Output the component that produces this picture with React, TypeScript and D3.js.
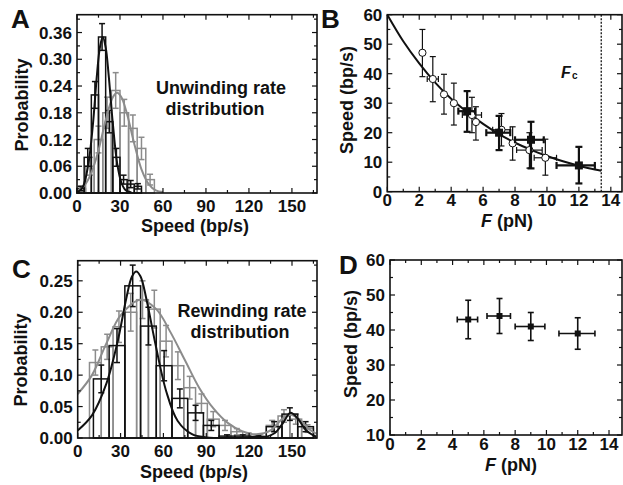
import React from 'react';
import * as d3 from 'd3';

// ---- panel A: unwinding rate histograms ----
const aBlackStart = 0;
const aBlackWidth = 5;
const aBlackProb = [0.01, 0.08, 0.22, 0.35, 0.16, 0.08, 0.03, 0.02, 0.015];
const aBlackErr = [0.005, 0.02, 0.03, 0.03, 0.025, 0.02, 0.01, 0.008, 0.006];
const aGreyStart = 0;
const aGreyWidth = 6;
const aGreyProb = [0.01, 0.06, 0.12, 0.18, 0.23, 0.18, 0.145, 0.1, 0.03];
const aGreyErr = [0.005, 0.02, 0.03, 0.035, 0.04, 0.03, 0.03, 0.025, 0.012];
const aBlackFit: [number, number][] = [
  [0, 0.001], [4, 0.013], [8, 0.067], [11, 0.15], [14, 0.268], [16, 0.327], [18, 0.35],
  [20, 0.327], [22, 0.268], [25, 0.156], [28, 0.067], [31, 0.023], [34, 0.006], [38, 0.001],
];
const aGreyFit: [number, number][] = [
  [0, 0.005], [5, 0.016], [10, 0.045], [15, 0.096], [20, 0.163], [25, 0.215], [28, 0.225],
  [31, 0.215], [35, 0.176], [40, 0.11], [45, 0.053], [50, 0.02], [55, 0.006], [60, 0.002],
];

// ---- panel C: rewinding rate histograms ----
const cBlackStart = 11;
const cBlackWidth = 11;
const cBlackProb = [0.094, 0.147, 0.242, 0.178, 0.115, 0.063, 0.04, 0.02, 0.003, 0.003, 0.002, 0.018, 0.038, 0.018];
const cBlackErr = [0.022, 0.027, 0.033, 0.03, 0.024, 0.015, 0.012, 0.008, 0.002, 0.002, 0.002, 0.008, 0.01, 0.008];
const cGreyStart = 8.25;
const cGreyWidth = 8.25;
const cGreyProb = [0.12, 0.145, 0.177, 0.2, 0.22, 0.205, 0.154, 0.115, 0.08, 0.055, 0.03, 0.02, 0.01, 0.005, 0.003, 0.02, 0.035, 0.03, 0.015];
const cGreyErr = [0.02, 0.02, 0.025, 0.03, 0.03, 0.03, 0.025, 0.022, 0.018, 0.015, 0.012, 0.008, 0.005, 0.003, 0.002, 0.008, 0.01, 0.008, 0.006];
const cBlackFit: [number, number][] = [
  [0, 0.012], [10, 0.036], [20, 0.086], [28, 0.154], [34, 0.222], [38, 0.257], [41, 0.265],
  [44, 0.257], [48, 0.222], [54, 0.154], [62, 0.074], [70, 0.027], [80, 0.006], [90, 0.001],
  [110, 0], [130, 0.001], [138, 0.008], [144, 0.025], [149, 0.04], [154, 0.031], [160, 0.012], [167, 0.002],
];
const cGreyFit: [number, number][] = [
  [0, 0.07], [10, 0.1], [20, 0.15], [30, 0.195], [44, 0.22], [55, 0.205], [65, 0.168],
  [75, 0.124], [85, 0.08], [95, 0.047], [105, 0.024], [115, 0.011], [125, 0.006], [135, 0.012],
  [143, 0.03], [149, 0.037], [155, 0.03], [162, 0.014], [167, 0.007],
];

// ---- panel B: unwinding speed vs force ----
const bCircleF = [2.2, 2.85, 3.55, 4.17, 5.3, 5.55, 7.15, 7.85, 8.9, 9.9];
const bCircleV = [47.1, 38.2, 33, 30, 26, 23.6, 21, 16.4, 14.1, 11.5];
const bCircleLo = [39, 30.5, 26.3, 22.6, 20, 17.5, 15.5, 10.7, 8, 5.6];
const bCircleHi = [55, 45.8, 39.8, 36.8, 32, 28.8, 26.5, 22, 20, 17.8];
const bCircleFLo = [2.2, 2.5, 3.55, 4.17, 4.7, 5.55, 6.6, 7.85, 8.1, 9.2];
const bCircleFHi = [2.2, 3.2, 3.55, 4.17, 5.9, 5.55, 7.7, 7.85, 9.7, 10.6];
const bSquareF = [5, 7, 9, 12];
const bSquareV = [27.3, 20, 17.6, 8.9];
const bSquareLo = [20.3, 14.1, 7.9, 2.8];
const bSquareHi = [34.1, 25.7, 23.7, 15.2];
const bSquareFLo = [4.45, 6.2, 8.0, 10.6];
const bSquareFHi = [5.5, 7.7, 9.8, 13.0];
const bFit: [number, number][] = [
  [0, 60], [1, 51], [2, 43.5], [3, 37], [4, 31.5], [5, 27], [6, 23], [7, 19.5],
  [8, 16.6], [9, 14.2], [10, 12.1], [11, 10.3], [12, 8.8], [13, 7.5], [13.4, 7.1],
];
const bForceCritical = 13.4;

// ---- panel D: rewinding speed vs force ----
const dF = [5, 7, 9, 12];
const dV = [43, 44, 41, 39];
const dLo = [37.5, 39, 37, 34.5];
const dHi = [48.5, 49, 45, 43.5];
const dFLo = [4.3, 6.2, 8.0, 10.8];
const dFHi = [5.6, 7.7, 9.9, 13.1];

const FONT = "'Liberation Sans', Arial, Helvetica, sans-serif";
const GREY = '#8c8c8c';
const INK = '#111';

type Scale = d3.ScaleLinear<number, number>;

function Frame({ x, y, xMajor, xMinor, yMajor, yMinor, yFmt, xLabelY }: {
  x: Scale; y: Scale; xMajor: number[]; xMinor: number[]; yMajor: number[]; yMinor: number[];
  yFmt: (v: number) => string; xLabelY: number;
}) {
  const [x0, x1] = x.range();
  const [y0, y1] = y.range();
  const tick = (v: number, len: number, axis: 'x' | 'y', k: string) =>
    axis === 'x' ? (
      <g key={k}>
        <line x1={x(v)} x2={x(v)} y1={y0} y2={y0 - len} />
        <line x1={x(v)} x2={x(v)} y1={y1} y2={y1 + len} />
      </g>
    ) : (
      <g key={k}>
        <line x1={x0} x2={x0 + len} y1={y(v)} y2={y(v)} />
        <line x1={x1} x2={x1 - len} y1={y(v)} y2={y(v)} />
      </g>
    );
  return (
    <g>
      <g stroke={INK} strokeWidth={1.2}>
        {xMajor.map((v, i) => tick(v, 5, 'x', 'xM' + i))}
        {xMinor.map((v, i) => tick(v, 3, 'x', 'xm' + i))}
        {yMajor.map((v, i) => tick(v, 5, 'y', 'yM' + i))}
        {yMinor.map((v, i) => tick(v, 3, 'y', 'ym' + i))}
      </g>
      <rect x={x0} y={y1} width={x1 - x0} height={y0 - y1} fill="none" stroke={INK} strokeWidth={1.6} />
      <g fontFamily={FONT} fontWeight="bold" fontSize={17} fill={INK}>
        {xMajor.map((v, i) => (
          <text key={'xl' + i} x={x(v)} y={xLabelY} textAnchor="middle">{v}</text>
        ))}
        {yMajor.map((v, i) => (
          <text key={'yl' + i} x={x0 - 5} y={y(v) + 6} textAnchor="end">{yFmt(v)}</text>
        ))}
      </g>
    </g>
  );
}

function Histogram({ x, y, start, width, prob, err, color }: {
  x: Scale; y: Scale; start: number; width: number; prob: number[]; err: number[]; color: string;
}) {
  return (
    <g stroke={color} fill="none" strokeWidth={1.5}>
      {prob.map((p, i) => {
        const a = start + i * width;
        const c = x(a + width / 2);
        return (
          <g key={i}>
            <rect x={x(a)} y={y(p)} width={x(a + width) - x(a)} height={y(0) - y(p)} />
            <line x1={c} x2={c} y1={y(p - err[i])} y2={y(p + err[i])} />
            <line x1={c - 3} x2={c + 3} y1={y(p - err[i])} y2={y(p - err[i])} />
            <line x1={c - 3} x2={c + 3} y1={y(p + err[i])} y2={y(p + err[i])} />
          </g>
        );
      })}
    </g>
  );
}

function ErrBar({ x, y, f, v, lo, hi, flo, fhi, w, cap }: {
  x: Scale; y: Scale; f: number; v: number; lo: number; hi: number; flo: number; fhi: number; w: number; cap: number;
}) {
  return (
    <g stroke={INK} strokeWidth={w}>
      <line x1={x(f)} x2={x(f)} y1={y(lo)} y2={y(hi)} />
      <line x1={x(f) - cap} x2={x(f) + cap} y1={y(lo)} y2={y(lo)} />
      <line x1={x(f) - cap} x2={x(f) + cap} y1={y(hi)} y2={y(hi)} />
      {fhi > flo && (
        <>
          <line x1={x(flo)} x2={x(fhi)} y1={y(v)} y2={y(v)} />
          <line x1={x(flo)} x2={x(flo)} y1={y(v) - cap} y2={y(v) + cap} />
          <line x1={x(fhi)} x2={x(fhi)} y1={y(v) - cap} y2={y(v) + cap} />
        </>
      )}
    </g>
  );
}

const range = (a: number, b: number, s: number) => d3.range(a, b + s / 2, s);

export default function App() {
  // panel A
  const xA = d3.scaleLinear().domain([0, 167.5]).range([77, 317]);
  const yA = d3.scaleLinear().domain([0, 0.4]).range([193, 14.7]);
  // panel B
  const xB = d3.scaleLinear().domain([0, 14.7]).range([387.3, 622]);
  const yB = d3.scaleLinear().domain([0, 60]).range([191.7, 14.7]);
  // panel C
  const xC = d3.scaleLinear().domain([0, 167.5]).range([77.7, 317]);
  const yC = d3.scaleLinear().domain([0, 0.282]).range([438, 260.7]);
  // panel D
  const xD = d3.scaleLinear().domain([0, 14.83]).range([390, 622]);
  const yD = d3.scaleLinear().domain([10, 60]).range([435, 260]);

  const curve = (x: Scale, y: Scale) =>
    d3.line<[number, number]>().x((d) => x(d[0])).y((d) => y(Math.max(0, d[1]))).curve(d3.curveCatmullRom);

  const f2 = d3.format('.2f');
  const txt = { fontFamily: FONT, fontWeight: 'bold' as const, fill: INK };

  return (
    <svg width={623} height={485} style={{ position: 'absolute', left: 0, top: 0, background: '#fff' }}>
      <rect width={623} height={485} fill="#fff" />
      <defs>
        <clipPath id="clipA"><rect x={77} y={14.7} width={240} height={178.3} /></clipPath>
        <clipPath id="clipC"><rect x={77.7} y={260.7} width={239.3} height={177.3} /></clipPath>
      </defs>

      {/* ---- A ---- */}
      <Histogram x={xA} y={yA} start={aGreyStart} width={aGreyWidth} prob={aGreyProb} err={aGreyErr} color={GREY} />
      <Histogram x={xA} y={yA} start={aBlackStart} width={aBlackWidth} prob={aBlackProb} err={aBlackErr} color={INK} />
      <g clipPath="url(#clipA)" fill="none" strokeWidth={2}>
        <path d={curve(xA, yA)(aGreyFit) || ''} stroke={GREY} />
        <path d={curve(xA, yA)(aBlackFit) || ''} stroke={INK} />
      </g>
      <Frame x={xA} y={yA} xMajor={range(0, 150, 30)} xMinor={range(15, 165, 30)}
        yMajor={range(0, 0.36, 0.06)} yMinor={range(0.03, 0.39, 0.06)} yFmt={f2} xLabelY={212} />
      <text {...txt} fontSize={18} x={221} y={94} textAnchor="middle">Unwinding rate</text>
      <text {...txt} fontSize={18} x={215} y={115} textAnchor="middle">distribution</text>
      <text {...txt} fontSize={18} transform="translate(28,105) rotate(-90)" textAnchor="middle">Probability</text>
      <text {...txt} fontSize={18} x={195} y={232} textAnchor="middle">Speed (bp/s)</text>
      <text {...txt} fontSize={26} x={11} y={28}>A</text>

      {/* ---- B ---- */}
      <line x1={xB(bForceCritical)} x2={xB(bForceCritical)} y1={yB(0)} y2={yB(60)} stroke={INK} strokeWidth={1.3} strokeDasharray="2,1.5" />
      <path d={curve(xB, yB)(bFit) || ''} fill="none" stroke={INK} strokeWidth={2} />
      {bCircleF.map((f, i) => (
        <ErrBar key={'bc' + i} x={xB} y={yB} f={f} v={bCircleV[i]} lo={bCircleLo[i]} hi={bCircleHi[i]}
          flo={bCircleFLo[i]} fhi={bCircleFHi[i]} w={1.2} cap={3} />
      ))}
      {bCircleF.map((f, i) => (
        <circle key={'bcc' + i} cx={xB(f)} cy={yB(bCircleV[i])} r={3.6} fill="#fff" stroke={INK} strokeWidth={1} />
      ))}
      {bSquareF.map((f, i) => (
        <ErrBar key={'bs' + i} x={xB} y={yB} f={f} v={bSquareV[i]} lo={bSquareLo[i]} hi={bSquareHi[i]}
          flo={bSquareFLo[i]} fhi={bSquareFHi[i]} w={2.2} cap={3.5} />
      ))}
      {bSquareF.map((f, i) => (
        <rect key={'bss' + i} x={xB(f) - 4} y={yB(bSquareV[i]) - 4} width={8} height={8} fill={INK} />
      ))}
      <Frame x={xB} y={yB} xMajor={range(0, 14, 2)} xMinor={range(1, 13, 2)}
        yMajor={range(0, 60, 10)} yMinor={range(5, 55, 10)} yFmt={(v) => String(v)} xLabelY={206} />
      <text {...txt} fontSize={16} fontStyle="italic" x={561} y={78}>F</text>
      <text {...txt} fontSize={10} x={572} y={79}>c</text>
      <text {...txt} fontSize={18} transform="translate(353,100) rotate(-90)" textAnchor="middle">Speed (bp/s)</text>
      <text {...txt} fontSize={18} x={507} y={227} textAnchor="middle">
        <tspan fontStyle="italic">F</tspan> (pN)
      </text>
      <text {...txt} fontSize={26} x={321} y={28}>B</text>

      {/* ---- C ---- */}
      <Histogram x={xC} y={yC} start={cGreyStart} width={cGreyWidth} prob={cGreyProb} err={cGreyErr} color={GREY} />
      <Histogram x={xC} y={yC} start={cBlackStart} width={cBlackWidth} prob={cBlackProb} err={cBlackErr} color={INK} />
      <g clipPath="url(#clipC)" fill="none" strokeWidth={2}>
        <path d={curve(xC, yC)(cGreyFit) || ''} stroke={GREY} />
        <path d={curve(xC, yC)(cBlackFit) || ''} stroke={INK} />
      </g>
      <Frame x={xC} y={yC} xMajor={range(0, 150, 30)} xMinor={range(15, 165, 30)}
        yMajor={range(0, 0.25, 0.05)} yMinor={range(0.025, 0.275, 0.05)} yFmt={f2} xLabelY={457} />
      <text {...txt} fontSize={18} x={242} y={317} textAnchor="middle">Rewinding rate</text>
      <text {...txt} fontSize={18} x={240} y={338} textAnchor="middle">distribution</text>
      <text {...txt} fontSize={18} transform="translate(27,360) rotate(-90)" textAnchor="middle">Probability</text>
      <text {...txt} fontSize={18} x={194} y={478} textAnchor="middle">Speed (bp/s)</text>
      <text {...txt} fontSize={26} x={12} y={278}>C</text>

      {/* ---- D ---- */}
      {dF.map((f, i) => (
        <ErrBar key={'d' + i} x={xD} y={yD} f={f} v={dV[i]} lo={dLo[i]} hi={dHi[i]}
          flo={dFLo[i]} fhi={dFHi[i]} w={1.6} cap={3} />
      ))}
      {dF.map((f, i) => (
        <rect key={'dm' + i} x={xD(f) - 3} y={yD(dV[i]) - 3} width={6} height={6} fill={INK} />
      ))}
      <Frame x={xD} y={yD} xMajor={range(0, 14, 2)} xMinor={range(1, 13, 2)}
        yMajor={range(10, 60, 10)} yMinor={range(15, 55, 10)} yFmt={(v) => String(v)} xLabelY={450} />
      <text {...txt} fontSize={18} transform="translate(357,344) rotate(-90)" textAnchor="middle">Speed (bp/s)</text>
      <text {...txt} fontSize={18} x={511} y={471} textAnchor="middle">
        <tspan fontStyle="italic">F</tspan> (pN)
      </text>
      <text {...txt} fontSize={26} x={339} y={274}>D</text>
    </svg>
  );
}
